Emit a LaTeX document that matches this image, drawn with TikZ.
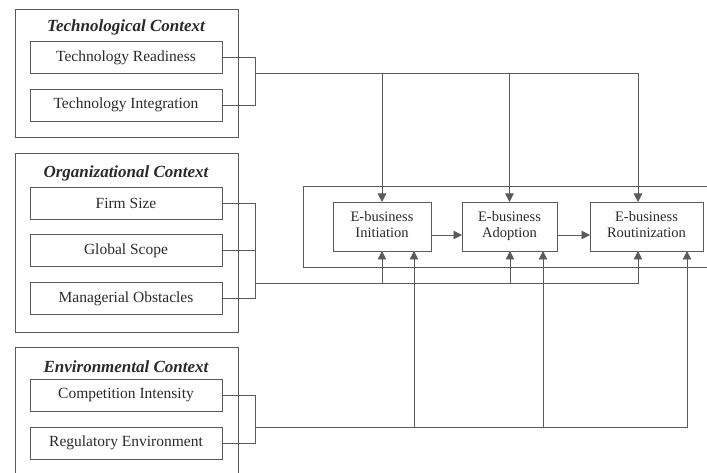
\documentclass[tikz,border=0pt]{standalone}
\usepackage{fontspec}
\setmainfont{Liberation Serif}
\usetikzlibrary{arrows.meta}
\definecolor{ln}{HTML}{5A5A5A}
\definecolor{tx}{HTML}{2A2A2A}
\begin{document}
\begin{tikzpicture}[x=1pt,y=-1pt,
  every node/.style={inner sep=0pt,outer sep=0pt},
  gbox/.style={draw=ln,line width=0.9pt},
  fbox/.style={draw=ln,line width=0.9pt,minimum width=192pt,minimum height=32pt,text=tx,font=\fontsize{15.5}{17}\selectfont},
  ebox/.style={draw=ln,line width=0.9pt,minimum height=49pt,align=center,text=tx,font=\fontsize{14.5}{16}\selectfont},
  ttl/.style={text=tx,font=\fontsize{17}{19}\selectfont\bfseries\itshape},
  ln/.style={draw=ln,line width=0.9pt},
  arr/.style={draw=ln,line width=0.9pt,-{Triangle[width=8.5pt,length=8.5pt]}}]
\useasboundingbox (0,0) rectangle (707,473);
% group boxes
\node[gbox,minimum width=223pt,minimum height=128pt] (tech) at (126.5,73) {};
\node[gbox,minimum width=223pt,minimum height=179pt] (org) at (126.5,242.5) {};
\node[gbox,minimum width=223pt,minimum height=143pt] (env) at (126.5,418.5) {};
% titles
\node[ttl] (ttech) at (126,27) {Technological Context};
\node[ttl] (torg) at (126,173) {Organizational Context};
\node[ttl] (tenv) at (126,367) {Environmental Context};
% factor boxes
\node[fbox] (tr) at (126,57.5) {Technology Readiness};
\node[fbox] (ti) at (126,105) {Technology Integration};
\node[fbox] (fs) at (126,203) {Firm Size};
\node[fbox] (gs) at (126,250.5) {Global Scope};
\node[fbox] (mo) at (126,298.5) {Managerial Obstacles};
\node[fbox] (ci) at (126,395.5) {Competition Intensity};
\node[fbox] (re) at (126,443) {Regulatory Environment};
% outcome area
\node[gbox,minimum width=409pt,minimum height=81pt] (outer) at (507.5,226.5) {};
\node[ebox,minimum width=98pt] (init) at (382,226.5) {\strut E-business\\Initiation\strut};
\node[ebox,minimum width=95pt] (adopt) at (509.5,226.5) {\strut E-business\\Adoption\strut};
\node[ebox,minimum width=113pt] (rout) at (646.5,226.5) {\strut E-business\\Routinization\strut};
% junctions
\coordinate (tj) at (255,73);
\coordinate (oj) at (255,283);
\coordinate (ej) at (255,427);
% technological bracket
\draw[ln] (tr.east) -| (tj);
\draw[ln] (ti.east) -| (tj);
\draw[arr] (tj) -| (init.north);
\draw[arr] (tj) -| (adopt.north);
\draw[arr] (tj) -| ([xshift=-8.5pt]rout.north);
% organizational bracket
\draw[ln] (fs.east) -| (oj);
\draw[ln] (gs.east) -- (gs.east -| oj);
\draw[ln] (mo.east) -| (oj);
\draw[arr] (oj) -| (init.south);
\draw[arr] (oj) -| ([xshift=0.5pt]adopt.south);
\draw[arr] (oj) -| ([xshift=-8.5pt]rout.south);
% environmental bracket
\draw[ln] (ci.east) -| (ej);
\draw[ln] (re.east) -| (ej);
\draw[arr] (ej) -| ([xshift=32pt]init.south);
\draw[arr] (ej) -| ([xshift=33.5pt]adopt.south);
\draw[arr] (ej) -| ([xshift=40.5pt]rout.south);
% sequence arrows
\draw[arr] ([yshift=-8.5pt]init.east) -- ([yshift=-8.5pt]adopt.west);
\draw[arr] ([yshift=-8.5pt]adopt.east) -- ([yshift=-8.5pt]rout.west);
\end{tikzpicture}
\end{document}
